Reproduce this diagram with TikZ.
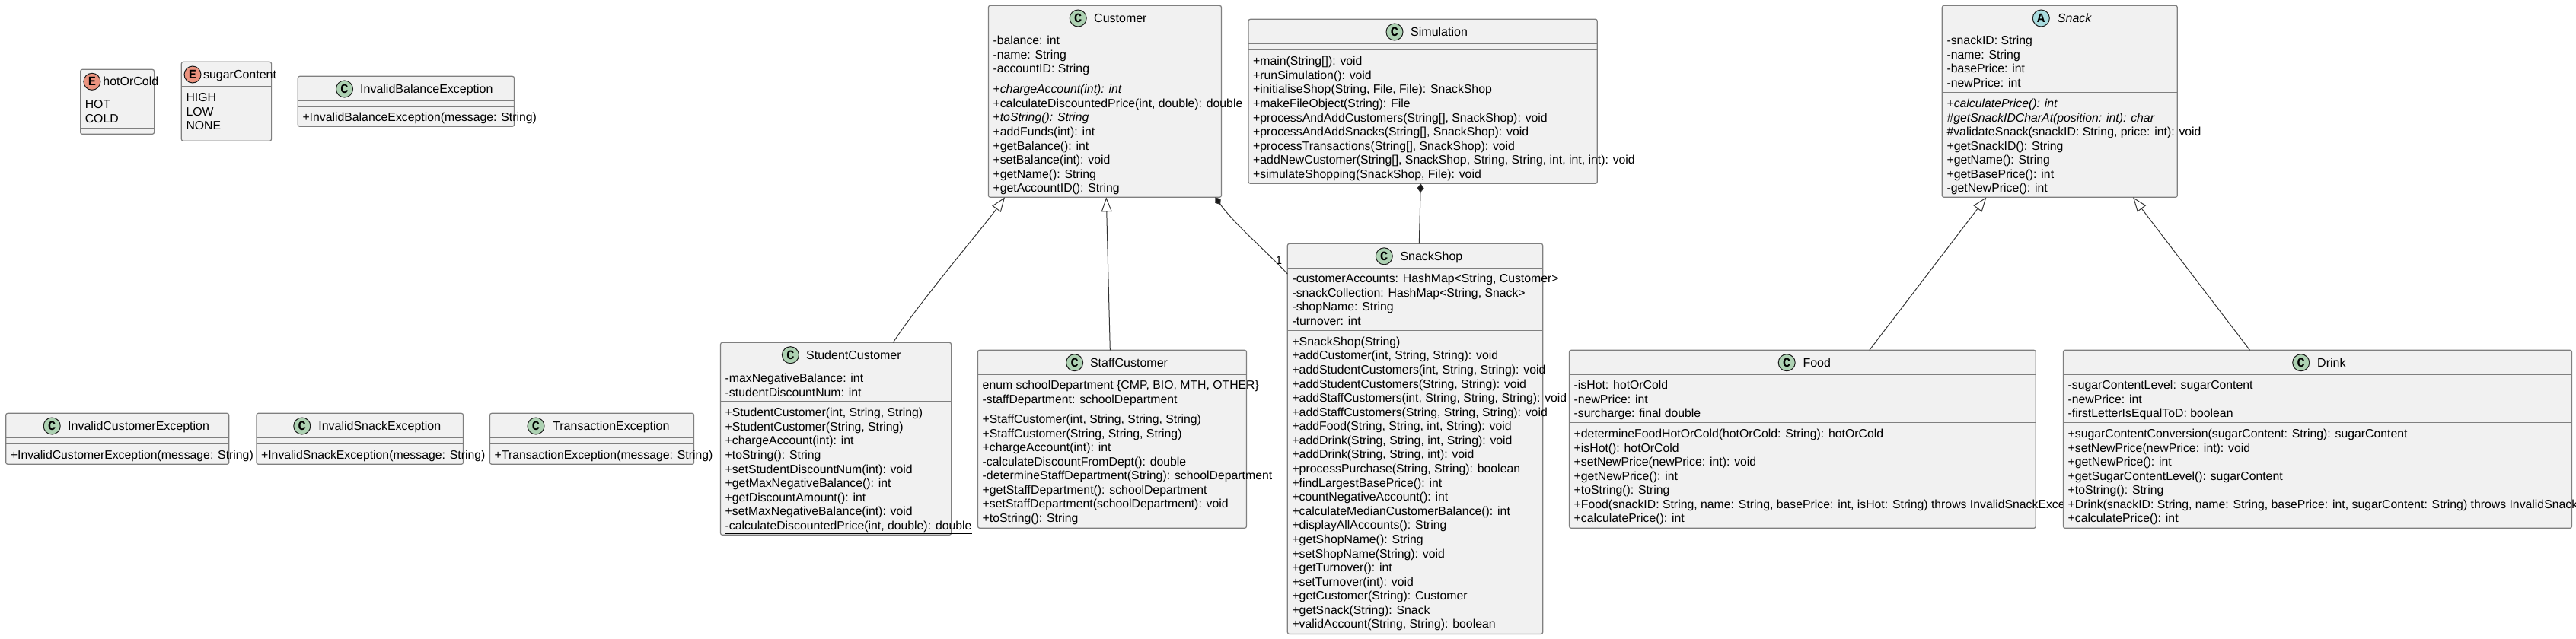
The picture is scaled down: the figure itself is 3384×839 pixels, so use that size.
\documentclass[tikz,border=0pt]{standalone}
\usepackage{fontspec}
\setmainfont{Liberation Sans}
\newfontfamily\iconfamily{Liberation Mono}[BoldFont={Liberation Mono Bold}]
\usetikzlibrary{fit,arrows.meta}
\definecolor{boxfill}{HTML}{F1F1F1}
\definecolor{boxline}{HTML}{7F7F7F}
\definecolor{edgeline}{HTML}{333333}
\definecolor{iconC}{HTML}{ADD1B2}
\definecolor{iconE}{HTML}{EB937F}
\definecolor{iconA}{HTML}{A9DCDF}
\newcommand\rowsize{\fontsize{15.8}{18}\selectfont}
\newcommand\titlesize{\fontsize{16}{18}\selectfont}
\tikzset{
  classnode/.style={draw=boxline,fill=boxfill,line width=1.2pt,rounded corners=2.5pt,inner sep=0pt,outer sep=0pt},
  sepstroke/.style={draw=boxline,line width=1.2pt},
  icondisc/.style={circle,draw=black!90,line width=1pt,minimum size=22pt,inner sep=0pt,font=\iconfamily\bfseries\fontsize{17}{17}\selectfont},
  titletext/.style={anchor=base west,inner sep=0pt,font=\titlesize},
  rowtext/.style={anchor=base west,inner sep=0pt,font=\rowsize},
  edgestroke/.style={draw=edgeline,line width=1pt},
  inherit/.style={edgestroke,-{Triangle[open,length=19pt,width=14pt,line width=1pt]}},
  compose/.style={edgestroke,-{Diamond[length=12pt,width=9pt,fill=black!90]}},
  multlabel/.style={inner sep=0pt,font=\fontsize{14.8}{16}\selectfont}
}
% name x1 y1 x2 y2 iconx titlex centery letter colour title
\newcommand\classbox[9]{%
  \node[classnode,fit={(#2,#3)(#4,#5)}] (#1) {};
  \classhead{#1}{#6}{#7}{#8}{#9}}
\newcommand\classhead[5]{\classheadb{#1}{#2}{#3}{#4}{#5}}
\newcommand\classheadb[6]{%
  \node[icondisc,fill=#5] (#1Icon) at (#2,#4) {#6};
  \pgfmathsetmacro\basey{#4+5.5}
  \node[titletext] (#1Title) at (#3,\basey) {\vphantom{x}\headtitle};}
\newcommand\sepat[2]{\draw[sepstroke] (#1.west |- 0,#2) -- (#1.east |- 0,#2);}
% name prefix y0 list
\newcommand\rowsat[4]{%
  \foreach \rowtxt [count=\rowi from 0] in {#4} {%
    \pgfmathsetmacro\rowy{#3+5.5+\rowi*18.58}
    \node[rowtext] (#1#2\rowi) at ([xshift=6pt]#1.west |- 0,\rowy) {\rowtxt};
  }}
\begin{document}
\begin{tikzpicture}[x=1pt,y=-1pt]
\useasboundingbox (0,0) rectangle (3384,839);

% ---- enums and exceptions
\def\headtitle{hotOrCold}
\node[classnode,fit={(105.6,91.3)(202.6,176.3)}] (hotOrCold) {};
\classheadb{hotOrCold}{120.9}{135.2}{107.3}{iconE}{E}
\sepat{hotOrCold}{123.3}\sepat{hotOrCold}{168.3}
\rowsat{hotOrCold}{A}{137}{{HOT},{COLD}}

\def\headtitle{sugarContent}
\node[classnode,fit={(238.3,81.3)(356.6,185.3)}] (sugarContent) {};
\classheadb{sugarContent}{253}{266.8}{98}{iconE}{E}
\sepat{sugarContent}{113.3}\sepat{sugarContent}{177.3}
\rowsat{sugarContent}{A}{128.3}{{HIGH},{LOW},{NONE}}

\def\headtitle{InvalidBalanceException}
\node[classnode,fit={(391.3,100.3)(675.5,166.3)}] (InvalidBalance) {};
\classheadb{InvalidBalance}{452.5}{473}{117}{iconC}{C}
\sepat{InvalidBalance}{132.3}\sepat{InvalidBalance}{140.3}
\rowsat{InvalidBalance}{M}{154}{{+InvalidBalanceException(message: String)}}

\def\headtitle{InvalidCustomerException}
\node[classnode,fit={(7.7,543.3)(300.7,610.3)}] (InvalidCustomer) {};
\classheadb{InvalidCustomer}{68.2}{89}{560}{iconC}{C}
\sepat{InvalidCustomer}{575.3}\sepat{InvalidCustomer}{583.3}
\rowsat{InvalidCustomer}{M}{598.3}{{+InvalidCustomerException(message: String)}}

\def\headtitle{InvalidSnackException}
\node[classnode,fit={(336.9,543.3)(608.5,610.3)}] (InvalidSnack) {};
\classheadb{InvalidSnack}{396.8}{418.1}{560}{iconC}{C}
\sepat{InvalidSnack}{575.3}\sepat{InvalidSnack}{583.3}
\rowsat{InvalidSnack}{M}{598.3}{{+InvalidSnackException(message: String)}}

\def\headtitle{TransactionException}
\node[classnode,fit={(643.5,543.3)(911.6,610.3)}] (Transaction) {};
\classheadb{Transaction}{704}{726}{560}{iconC}{C}
\sepat{Transaction}{575.3}\sepat{Transaction}{583.3}
\rowsat{Transaction}{M}{598.3}{{+TransactionException(message: String)}}

% ---- Customer
\def\headtitle{Customer}
\node[classnode,fit={(1298.4,7.3)(1604.5,259.3)}] (Customer) {};
\classheadb{Customer}{1416.2}{1437}{24}{iconC}{C}
\sepat{Customer}{39.3}\sepat{Customer}{102.3}
\rowsat{Customer}{A}{53.3}{{-balance: int},{-name: String},{-accountID: String}}
\rowsat{Customer}{M}{117.3}{%
 {+\textit{chargeAccount(int): int}},
 {+calculateDiscountedPrice(int, double): double},
 {+\textit{toString(): String}},
 {+addFunds(int): int},
 {+getBalance(): int},
 {+setBalance(int): void},
 {+getName(): String},
 {+getAccountID(): String}}

% ---- Simulation
\def\headtitle{Simulation}
\node[classnode,fit={(1640,25.3)(2098.3,241.3)}] (Simulation) {};
\classheadb{Simulation}{1832}{1853}{42}{iconC}{C}
\sepat{Simulation}{57.3}\sepat{Simulation}{65.3}
\rowsat{Simulation}{M}{80.3}{%
 {+main(String[]): void},
 {+runSimulation(): void},
 {+initialiseShop(String, File, File): SnackShop},
 {+makeFileObject(String): File},
 {+processAndAddCustomers(String[], SnackShop): void},
 {+processAndAddSnacks(String[], SnackShop): void},
 {+processTransactions(String[], SnackShop): void},
 {+addNewCustomer(String[], SnackShop, String, String, int, int, int): void},
 {+simulateShopping(SnackShop, File): void}}

% ---- Snack
\def\headtitle{\textit{Snack}}
\node[classnode,fit={(2551.3,7.3)(2860.3,259.3)}] (Snack) {};
\classheadb{Snack}{2681.3}{2702.7}{24}{iconA}{A}
\sepat{Snack}{39.3}\sepat{Snack}{121.3}
\rowsat{Snack}{A}{53.3}{{-snackID: String},{-name: String},{-basePrice: int},{-newPrice: int}}
\rowsat{Snack}{M}{136}{%
 {+\textit{calculatePrice(): int}},
 {\#\textit{getSnackIDCharAt(position: int): char}},
 {\#validateSnack(snackID: String, price: int): void},
 {+getSnackID(): String},
 {+getName(): String},
 {+getBasePrice(): int},
 {-getNewPrice(): int}}

% ---- StudentCustomer
\def\headtitle{StudentCustomer}
\node[classnode,fit={(946.5,450.3)(1249.6,703.3)}] (StudentCustomer) {};
\classheadb{StudentCustomer}{1038.4}{1059}{466.7}{iconC}{C}
\sepat{StudentCustomer}{482.3}\sepat{StudentCustomer}{527.3}
\rowsat{StudentCustomer}{A}{497.3}{{-maxNegativeBalance: int},{-studentDiscountNum: int}}
\rowsat{StudentCustomer}{M}{542.3}{%
 {+StudentCustomer(int, String, String)},
 {+StudentCustomer(String, String)},
 {+chargeAccount(int): int},
 {+toString(): String},
 {+setStudentDiscountNum(int): void},
 {+getMaxNegativeBalance(): int},
 {+getDiscountAmount(): int},
 {+setMaxNegativeBalance(int): void},
 {\underline{-calculateDiscountedPrice(int, double): double}}}

% ---- StaffCustomer
\def\headtitle{StaffCustomer}
\node[classnode,fit={(1284.5,460.3)(1637.5,694.3)}] (StaffCustomer) {};
\classheadb{StaffCustomer}{1411.6}{1431.8}{476.7}{iconC}{C}
\sepat{StaffCustomer}{492.3}\sepat{StaffCustomer}{537.7}
\rowsat{StaffCustomer}{A}{506.3}{{enum schoolDepartment \{CMP, BIO, MTH, OTHER\}},{-staffDepartment: schoolDepartment}}
\rowsat{StaffCustomer}{M}{551}{%
 {+StaffCustomer(int, String, String, String)},
 {+StaffCustomer(String, String, String)},
 {+chargeAccount(int): int},
 {-calculateDiscountFromDept(): double},
 {-determineStaffDepartment(String): schoolDepartment},
 {+getStaffDepartment(): schoolDepartment},
 {+setStaffDepartment(schoolDepartment): void},
 {+toString(): String}}

% ---- SnackShop
\def\headtitle{SnackShop}
\node[classnode,fit={(1691.3,320.3)(2026.7,833.5)}] (SnackShop) {};
\classheadb{SnackShop}{1818.3}{1839.3}{336.8}{iconC}{C}
\sepat{SnackShop}{352.6}\sepat{SnackShop}{434.4}
\rowsat{SnackShop}{A}{366}{%
 {-customerAccounts: HashMap<String, Customer>},
 {-snackCollection: HashMap<String, Snack>},
 {-shopName: String},
 {-turnover: int}}
\rowsat{SnackShop}{M}{448.8}{%
 {+SnackShop(String)},
 {+addCustomer(int, String, String): void},
 {+addStudentCustomers(int, String, String): void},
 {+addStudentCustomers(String, String): void},
 {+addStaffCustomers(int, String, String, String): void},
 {+addStaffCustomers(String, String, String): void},
 {+addFood(String, String, int, String): void},
 {+addDrink(String, String, int, String): void},
 {+addDrink(String, String, int): void},
 {+processPurchase(String, String): boolean},
 {+findLargestBasePrice(): int},
 {+countNegativeAccount(): int},
 {+calculateMedianCustomerBalance(): int},
 {+displayAllAccounts(): String},
 {+getShopName(): String},
 {+setShopName(String): void},
 {+getTurnover(): int},
 {+setTurnover(int): void},
 {+getCustomer(String): Customer},
 {+getSnack(String): Snack},
 {+validAccount(String, String): boolean}}

% ---- Food
\def\headtitle{Food}
\node[classnode,fit={(2061.5,460.3)(2674.3,694.3)}] (Food) {};
\classheadb{Food}{2347.2}{2368.3}{476.7}{iconC}{C}
\sepat{Food}{492.3}\sepat{Food}{555.7}
\rowsat{Food}{A}{506.3}{{-isHot: hotOrCold},{-newPrice: int},{-surcharge: final double}}
\rowsat{Food}{M}{570}{%
 {+determineFoodHotOrCold(hotOrCold: String): hotOrCold},
 {+isHot(): hotOrCold},
 {+setNewPrice(newPrice: int): void},
 {+getNewPrice(): int},
 {+toString(): String},
 {+Food(snackID: String, name: String, basePrice: int, isHot: String) throws InvalidSnackException},
 {+calculatePrice(): int}}

% ---- Drink
\def\headtitle{Drink}
\node[classnode,fit={(2710.4,460.3)(3378.5,694.3)}] (Drink) {};
\classheadb{Drink}{3022.7}{3044}{476.7}{iconC}{C}
\sepat{Drink}{492.3}\sepat{Drink}{555.7}
\rowsat{Drink}{A}{506.3}{{-sugarContentLevel: sugarContent},{-newPrice: int},{-firstLetterIsEqualToD: boolean}}
\rowsat{Drink}{M}{570}{%
 {+sugarContentConversion(sugarContent: String): sugarContent},
 {+setNewPrice(newPrice: int): void},
 {+getNewPrice(): int},
 {+getSugarContentLevel(): sugarContent},
 {+toString(): String},
 {+Drink(snackID: String, name: String, basePrice: int, sugarContent: String) throws InvalidSnackException},
 {+calculatePrice(): int}}

% ---- connectors
\draw[inherit] ([xshift=226.8pt]StudentCustomer.north west) .. controls +(32,-50) and +(-25,35) .. ([xshift=21.6pt]Customer.south west);
\draw[inherit] ([xshift=173.8pt]StaffCustomer.north west) -- ([xshift=154.9pt]Customer.south west);
\draw[inherit] ([xshift=394.3pt]Food.north west) -- ([xshift=58.1pt]Snack.south west);
\draw[inherit] ([xshift=245.1pt]Drink.north west) -- ([xshift=250.7pt]Snack.south west);
\draw[compose] ([yshift=-39.7pt]SnackShop.north west) .. controls +(-30,-32) and +(25,35) .. ([xshift=298pt]Customer.south west);
\draw[compose] ([xshift=173pt]SnackShop.north west) -- ([xshift=226.3pt]Simulation.south west);
\node[multlabel] (multOne) at (1680,342.7) {1};
\end{tikzpicture}
\end{document}
